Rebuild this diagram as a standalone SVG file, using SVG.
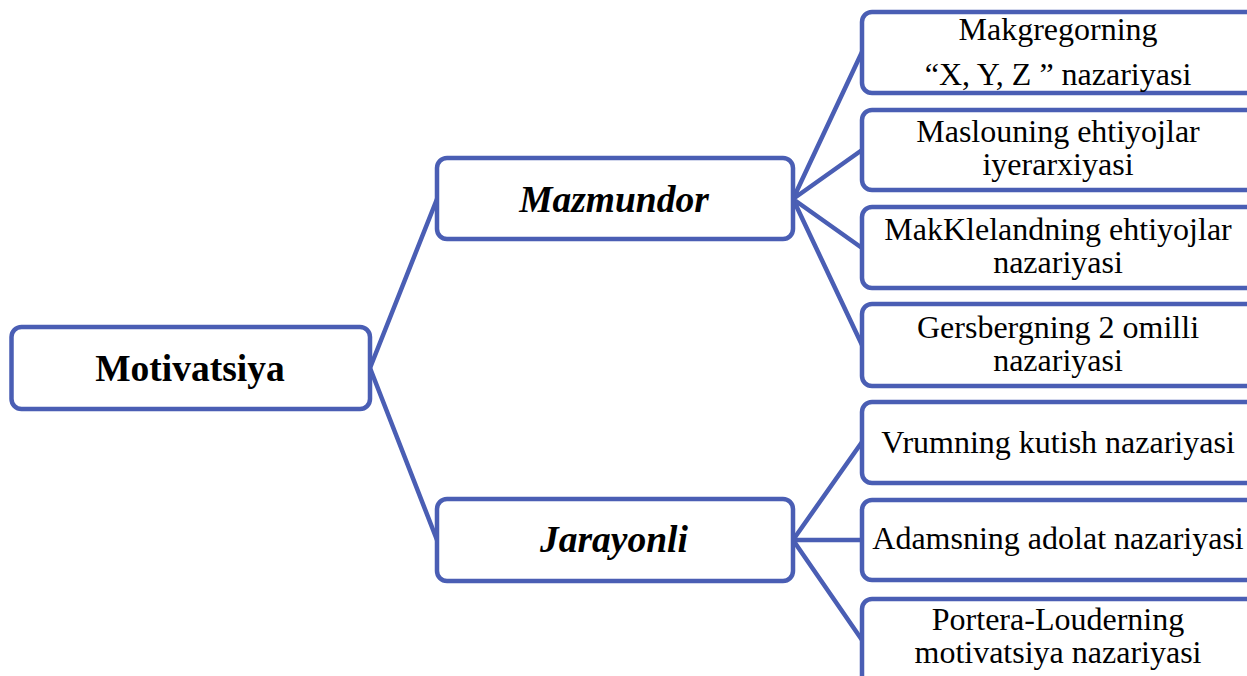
<svg xmlns="http://www.w3.org/2000/svg" width="1247" height="676" viewBox="0 0 1247 676">
<style>
.box{fill:#fff;stroke:#4A5EB4;stroke-width:4.5}
.ln{stroke:#4A5EB4;stroke-width:4.5;fill:none}
.t{font-family:"Liberation Serif","Times New Roman",serif;fill:#000;text-anchor:middle}
.r{font-size:32px}
.b{font-size:37.5px;font-weight:bold}
.bi{font-size:37.5px;font-weight:bold;font-style:italic}
</style>
<rect width="1247" height="676" fill="#fff"/>
<g id="connectors">
<path class="ln" d="M370 368 L437 199 M370 368 L437 540"/>
<path class="ln" d="M793 199 L862 52 M793 199 L862 150 M793 199 L862 248 M793 199 L862 345"/>
<path class="ln" d="M793 540 L862 442 M793 540 L862 540 M793 540 L862 640"/>
</g>
<g id="motivatsiya">
<rect class="box" x="11.5" y="327" width="358.5" height="82" rx="10"/>
<text class="t b" x="190" y="381">Motivatsiya</text>
</g>
<g id="mazmundor">
<rect class="box" x="437" y="158" width="356" height="81" rx="10"/>
<text class="t bi" x="614" y="212">Mazmundor</text>
</g>
<g id="jarayonli">
<rect class="box" x="437" y="499" width="356" height="82" rx="10"/>
<text class="t bi" x="614" y="552">Jarayonli</text>
</g>
<g id="makgregor">
<rect class="box" x="862" y="12" width="420" height="81" rx="10"/>
<text class="t r" x="1058" y="40">Makgregorning</text>
<text class="t r" x="1058" y="85">“X, Y, Z ” nazariyasi</text>
</g>
<g id="maslou">
<rect class="box" x="862" y="110" width="420" height="80" rx="10"/>
<text class="t r" x="1058" y="142">Maslouning ehtiyojlar</text>
<text class="t r" x="1058" y="175">iyerarxiyasi</text>
</g>
<g id="makklelland">
<rect class="box" x="862" y="207" width="420" height="81" rx="10"/>
<text class="t r" x="1058" y="240">MakKlelandning ehtiyojlar</text>
<text class="t r" x="1058" y="273">nazariyasi</text>
</g>
<g id="gersberg">
<rect class="box" x="862" y="304" width="420" height="82" rx="10"/>
<text class="t r" x="1058" y="338">Gersbergning 2 omilli</text>
<text class="t r" x="1058" y="371">nazariyasi</text>
</g>
<g id="vrum">
<rect class="box" x="862" y="402" width="420" height="81" rx="10"/>
<text class="t r" x="1058" y="453">Vrumning kutish nazariyasi</text>
</g>
<g id="adams">
<rect class="box" x="862" y="500" width="420" height="80" rx="10"/>
<text class="t r" x="1058" y="549">Adamsning adolat nazariyasi</text>
</g>
<g id="portera">
<rect class="box" x="862" y="599" width="420" height="100" rx="10"/>
<text class="t r" x="1058" y="630">Portera-Louderning</text>
<text class="t r" x="1058" y="663">motivatsiya nazariyasi</text>
</g>
</svg>
